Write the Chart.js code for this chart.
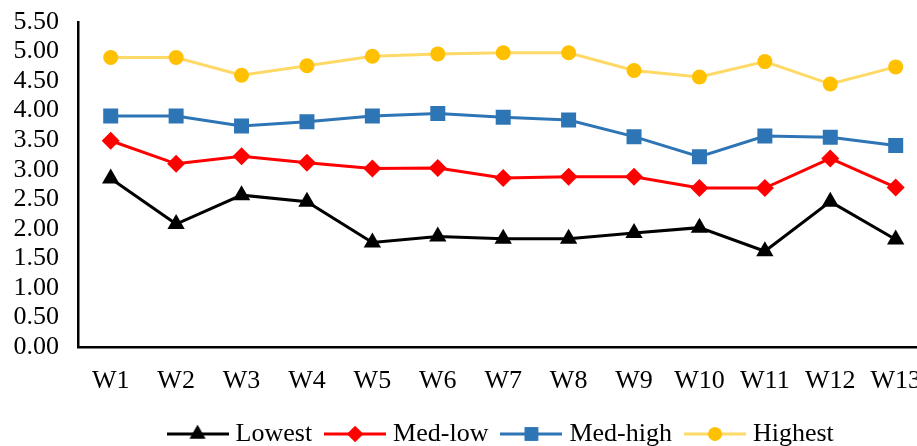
<!DOCTYPE html>
<html>
<head>
<meta charset="utf-8">
<script src="https://cdn.jsdelivr.net/npm/chart.js@4.4.1/dist/chart.umd.min.js"></script>
<style>
  html, body { margin: 0; padding: 0; background: #fff; overflow: hidden; }
  #wrap { width: 939px; height: 446px; }
</style>
</head>
<body>
<div id="wrap"><canvas id="weekly-chart"></canvas></div>
<script>
// Weekly averages per group
const weeks = ['W1', 'W2', 'W3', 'W4', 'W5', 'W6', 'W7', 'W8', 'W9', 'W10', 'W11', 'W12', 'W13'];
const lowest = [2.85, 2.08, 2.57, 2.46, 1.77, 1.87, 1.83, 1.83, 1.93, 2.02, 1.62, 2.46, 1.82];
const medLow = [3.49, 3.10, 3.23, 3.12, 3.02, 3.03, 2.86, 2.88, 2.88, 2.69, 2.69, 3.19, 2.70];
const medHigh = [3.91, 3.91, 3.74, 3.81, 3.91, 3.95, 3.89, 3.84, 3.56, 3.22, 3.57, 3.55, 3.41];
const highest = [4.90, 4.90, 4.60, 4.76, 4.92, 4.96, 4.98, 4.98, 4.68, 4.57, 4.83, 4.45, 4.74];
const seriesNames = ['Lowest', 'Med-low', 'Med-high', 'Highest'];

const FONT = { family: '"Liberation Serif", "Times New Roman", serif', size: 26 };

const styles = [
    { line: '#000000', fill: '#000000', point: 'triangle', radius: 10 },
    { line: '#ff0000', fill: '#ff0000', point: 'rectRot', radius: 9 },
    { line: '#2e75b6', fill: '#2e75b6', point: 'rect', radius: 10.6 },
    { line: '#ffd966', fill: '#ffc000', point: 'circle', radius: 7.5 }
];

// small line+marker swatch for the legend
function makeSwatch(style) {
    const c = document.createElement('canvas');
    c.width = 62; c.height = 22;
    const g = c.getContext('2d');
    g.strokeStyle = style.line;
    g.lineWidth = 3;
    g.beginPath(); g.moveTo(0, 11); g.lineTo(62, 11); g.stroke();
    g.fillStyle = style.fill;
    Chart.helpers.drawPoint(g, { pointStyle: style.point, radius: style.radius * 0.9, rotation: 0, borderWidth: 0 }, 31, 11);
    g.fill();
    return c;
}

const allSeries = [lowest, medLow, medHigh, highest];
const datasets = allSeries.map((values, i) => ({
    label: seriesNames[i],
    data: values,
    borderColor: styles[i].line,
    backgroundColor: styles[i].fill,
    pointBackgroundColor: styles[i].fill,
    pointBorderColor: styles[i].fill,
    pointBorderWidth: 0,
    pointStyle: styles[i].point,
    pointRadius: styles[i].radius,
    borderWidth: 3,
    tension: 0
}));

const swatches = styles.map(makeSwatch);

new Chart(document.getElementById('weekly-chart'), {
    type: 'line',
    data: { labels: weeks, datasets: datasets },
    options: {
        responsive: true,
        maintainAspectRatio: false,
        animation: false,
        // right side is held by the marker overflow, so no extra padding there
        layout: { padding: { top: 22, right: 0, bottom: -11, left: 0 } },
        scales: {
            x: {
                offset: true,
                grid: { display: false, drawTicks: false },
                border: { color: '#000', width: 2.5 },
                ticks: { color: '#000', font: FONT, padding: 19, maxRotation: 0, autoSkip: false },
                afterFit: scale => {
                    scale.height = 56;
                    scale.paddingLeft = 0;
                    scale.paddingRight = 0;
                }
            },
            y: {
                min: 0,
                max: 5.5,
                grid: { display: false, drawTicks: false },
                border: { color: '#000', width: 2.5 },
                ticks: { stepSize: 0.5, autoSkip: false, color: '#000', font: FONT, padding: 19, callback: v => v.toFixed(2) },
                afterFit: scale => {
                    scale.width = 78;
                    scale.paddingTop = 0;
                    scale.paddingBottom = 0;
                }
            }
        },
        plugins: {
            tooltip: { enabled: false },
            legend: {
                position: 'bottom',
                fullSize: false,
                labels: {
                    usePointStyle: true,
                    pointStyleWidth: 50,
                    padding: 18,
                    color: '#000',
                    font: FONT,
                    generateLabels: chart => chart.data.datasets.map((ds, i) => ({
                        text: ds.label,
                        pointStyle: swatches[i],
                        fillStyle: ds.backgroundColor,
                        strokeStyle: ds.borderColor,
                        lineWidth: 0,
                        fontColor: '#000',
                        datasetIndex: i
                    }))
                }
            }
        }
    }
});
</script>
</body>
</html>
